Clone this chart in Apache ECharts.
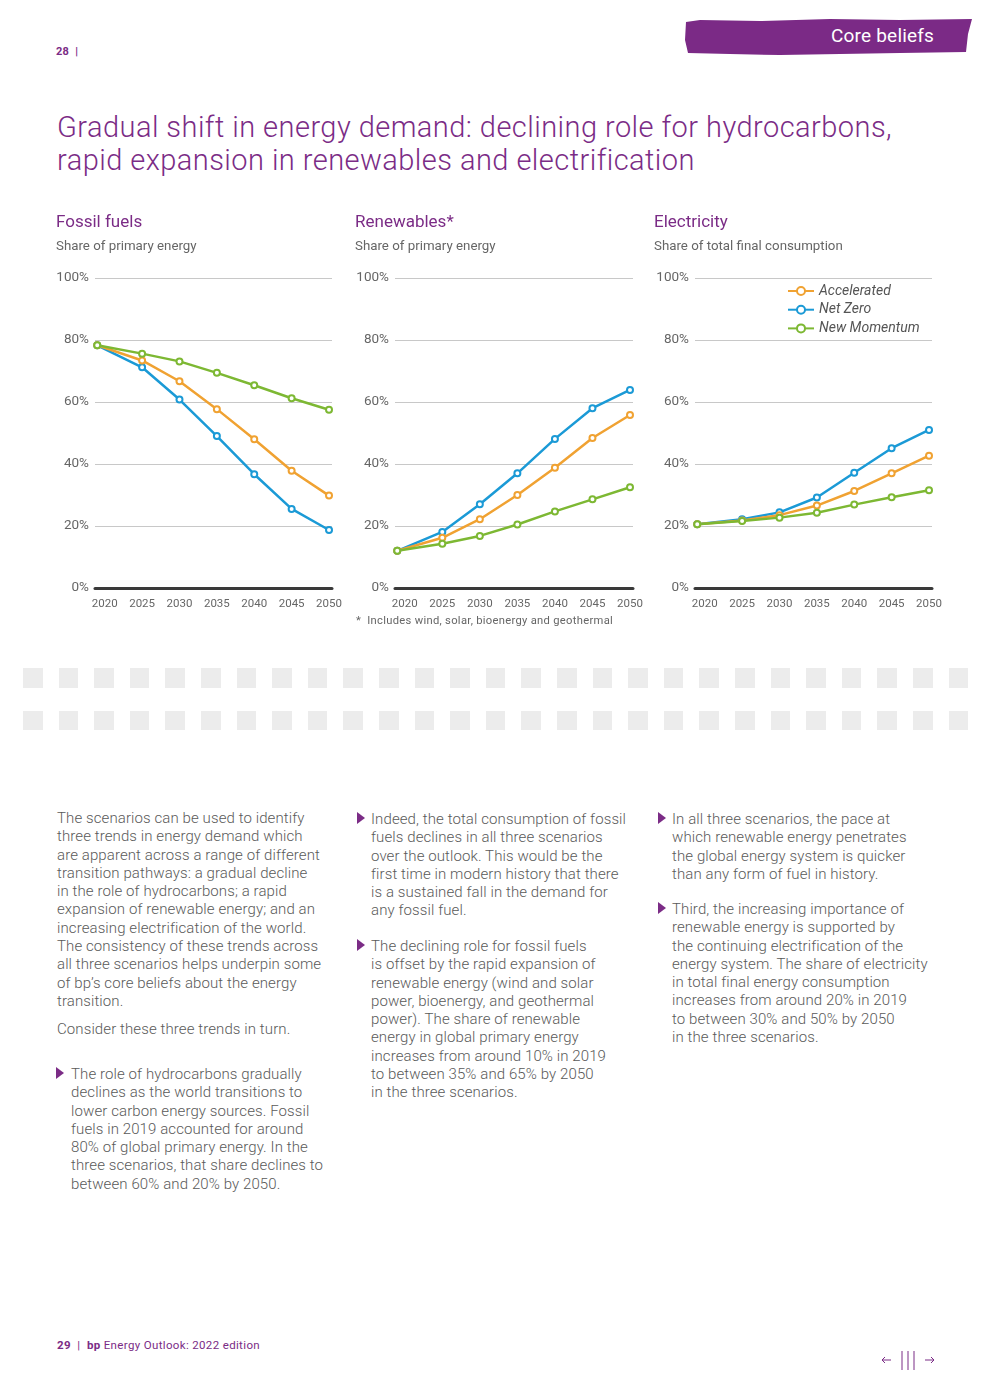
<!DOCTYPE html>
<html>
<head>
<meta charset="utf-8">
<script src="https://cdn.jsdelivr.net/npm/echarts@6/dist/echarts.min.js"></script>
<style>
  html, body { margin:0; padding:0; background:#fff; }
  body { width:992px; height:1398px; position:relative; overflow:hidden; font-family: Roboto, "Noto Sans", sans-serif; }
  #chart { position:absolute; left:0; top:0; width:992px; height:650px; }
  .abs { position:absolute; white-space:nowrap; }
  h1 { position:absolute; left:57px; top:111px; margin:0; font-weight:300; font-size:29px; line-height:33px; color:#7B2C86; white-space:nowrap; letter-spacing:0.45px; }
  .txt { position:absolute; font-size:15px; line-height:18.3px; color:#5a5a5a; font-weight:300; white-space:nowrap; letter-spacing:0.1px; }
  .tri { position:absolute; width:0; height:0; border-top:6.5px solid transparent; border-bottom:6.5px solid transparent; border-left:8.5px solid #7B2C86; }
  .dash { position:absolute; width:20px; height:20px; background:#ececec; }
</style>
</head>
<body>
<svg class="abs" style="left:0;top:0" width="992" height="70">
  <path d="M686,22 L700,20 L760,21 L830,19 L900,20 L972,19 L968,34 L966,52 L900,53 L840,54 L780,55 L730,54 L688,53 L685,40 Z" fill="#7B2A86"/>
</svg>
<div class="abs" style="left:831px;top:24px;font-size:19px;color:#fff;font-weight:400;letter-spacing:0.2px;">Core beliefs</div>
<div class="abs" style="left:56px;top:45px;font-size:11px;color:#7B2C86;font-weight:700;letter-spacing:0.3px;">28 &nbsp;|</div>

<h1>Gradual shift in energy demand: declining role for hydrocarbons,<br>rapid expansion in renewables and electrification</h1>

<div id="chart"></div>

<div class="abs" style="left:356px;top:614px;font-size:11.2px;color:#666;letter-spacing:0.3px;">*&nbsp; Includes wind, solar, bioenergy and geothermal</div>

<div id="dashes"></div>

<div class="txt" style="left:57px;top:809px;">The scenarios can be used to identify<br>three trends in energy demand which<br>are apparent across a range of different<br>transition pathways: a gradual decline<br>in the role of hydrocarbons; a rapid<br>expansion of renewable energy; and an<br>increasing electrification of the world.<br>The consistency of these trends across<br>all three scenarios helps underpin some<br>of bp’s core beliefs about the energy<br>transition.</div>
<div class="txt" style="left:57px;top:1020px;">Consider these three trends in turn.</div>
<div class="tri" style="left:56px;top:1067px;"></div>
<div class="txt" style="left:71px;top:1065px;">The role of hydrocarbons gradually<br>declines as the world transitions to<br>lower carbon energy sources. Fossil<br>fuels in 2019 accounted for around<br>80% of global primary energy. In the<br>three scenarios, that share declines to<br>between 60% and 20% by 2050.</div>

<div class="tri" style="left:357px;top:812px;"></div>
<div class="txt" style="left:371px;top:810px;">Indeed, the total consumption of fossil<br>fuels declines in all three scenarios<br>over the outlook. This would be the<br>first time in modern history that there<br>is a sustained fall in the demand for<br>any fossil fuel.</div>
<div class="tri" style="left:357px;top:939px;"></div>
<div class="txt" style="left:371px;top:937px;">The declining role for fossil fuels<br>is offset by the rapid expansion of<br>renewable energy (wind and solar<br>power, bioenergy, and geothermal<br>power). The share of renewable<br>energy in global primary energy<br>increases from around 10% in 2019<br>to between 35% and 65% by 2050<br>in the three scenarios.</div>

<div class="tri" style="left:658px;top:812px;"></div>
<div class="txt" style="left:672px;top:810px;">In all three scenarios, the pace at<br>which renewable energy penetrates<br>the global energy system is quicker<br>than any form of fuel in history.</div>
<div class="tri" style="left:658px;top:902px;"></div>
<div class="txt" style="left:672px;top:900px;">Third, the increasing importance of<br>renewable energy is supported by<br>the continuing electrification of the<br>energy system. The share of electricity<br>in total final energy consumption<br>increases from around 20% in 2019<br>to between 30% and 50% by 2050<br>in the three scenarios.</div>

<div class="abs" style="left:57px;top:1338px;font-size:11.5px;color:#7B2C86;letter-spacing:0.35px;"><b>29</b> &nbsp;|&nbsp; <b>bp</b> Energy Outlook: 2022 edition</div>
<svg class="abs" style="left:878px;top:1350px" width="62" height="22">
  <g stroke="#7B2C86" stroke-width="1" fill="none">
    <line x1="4" y1="10" x2="13" y2="10"/><path d="M7,7 L4,10 L7,13"/>
    <line x1="24" y1="1" x2="24" y2="20"/><line x1="30" y1="1" x2="30" y2="20"/><line x1="36" y1="1" x2="36" y2="20"/>
    <line x1="47" y1="10" x2="56" y2="10"/><path d="M53,7 L56,10 L53,13"/>
  </g>
</svg>

<script>
// ---- data ----
const years = [2019, 2025, 2030, 2035, 2040, 2045, 2050];
const xTickLabels = [2020, 2025, 2030, 2035, 2040, 2045, 2050];
const scenarioNames = ['Accelerated', 'Net Zero', 'New Momentum'];

const fossilAccelerated = [78.3, 73.4, 66.7, 57.7, 48.0, 37.8, 29.8];
const fossilNetZero     = [78.3, 71.2, 60.8, 49.0, 36.7, 25.5, 18.7];
const fossilNewMomentum = [78.3, 75.6, 73.1, 69.4, 65.4, 61.2, 57.5];

const renewAccelerated  = [12.0, 16.2, 22.2, 30.0, 38.8, 48.4, 55.8];
const renewNetZero      = [12.0, 18.1, 27.0, 37.0, 48.1, 58.0, 63.9];
const renewNewMomentum  = [12.0, 14.3, 16.8, 20.5, 24.7, 28.6, 32.5];

const elecAccelerated   = [20.6, 21.8, 23.5, 26.6, 31.3, 37.0, 42.7];
const elecNetZero       = [20.6, 22.2, 24.4, 29.2, 37.2, 45.1, 51.0];
const elecNewMomentum   = [20.6, 21.6, 22.7, 24.3, 26.9, 29.3, 31.5];

const panelTitles = ['Fossil fuels', 'Renewables*', 'Electricity'];
const panelSubtitles = ['Share of primary energy', 'Share of primary energy', 'Share of total final consumption'];

// ---- styling ----
const colors = { 'Accelerated': '#F0A232', 'Net Zero': '#1B9AD6', 'New Momentum': '#7DB833' };
const FONT = 'Roboto, "Noto Sans", sans-serif';

// dashes band
(function(){
  const d = document.getElementById('dashes');
  let html = '';
  for (let r = 0; r < 2; r++) {
    for (let i = 0; i < 27; i++) {
      const x = 23 + i * 35.6;
      const y = r === 0 ? 668 : 711;
      html += '<div class="dash" style="left:' + x.toFixed(1) + 'px;top:' + y + 'px;width:19.5px;height:' + (r===0?20:19) + 'px"></div>';
    }
  }
  d.innerHTML = html;
})();

const chart = echarts.init(document.getElementById('chart'), null, { renderer: 'canvas' });

const gridLefts = [95, 395, 695];
const gridWidths = [237, 238, 237];
const panels = [
  { 'Accelerated': fossilAccelerated, 'Net Zero': fossilNetZero, 'New Momentum': fossilNewMomentum },
  { 'Accelerated': renewAccelerated, 'Net Zero': renewNetZero, 'New Momentum': renewNewMomentum },
  { 'Accelerated': elecAccelerated, 'Net Zero': elecNetZero, 'New Momentum': elecNewMomentum }
];

const grids = [], xAxes = [], yAxes = [], series = [], titles = [];
panels.forEach((p, k) => {
  grids.push({ left: gridLefts[k], width: gridWidths[k], top: 278, height: 310 });
  xAxes.push({
    type: 'value', gridIndex: k, min: 2018.7, max: 2050.4,
    axisLine: { show: true, lineStyle: { color: '#3a3a3a', width: 3 } },
    axisTick: { show: false },
    splitLine: { show: false },
    axisLabel: { customValues: xTickLabels, formatter: v => String(v), color: '#666', fontSize: 11.5, fontFamily: FONT, margin: 10 }
  });
  yAxes.push({
    type: 'value', gridIndex: k, min: 0, max: 100, interval: 20,
    axisLine: { show: false }, axisTick: { show: false },
    splitLine: { lineStyle: { color: '#c8c8c8', width: 1 } },
    axisLabel: { formatter: '{value}%', color: '#666', fontSize: 13.5, fontFamily: FONT, margin: 6 }
  });
  ['Net Zero', 'Accelerated', 'New Momentum'].forEach(name => {
    series.push({
      name: name, type: 'line', xAxisIndex: k, yAxisIndex: k,
      data: years.map((y, i) => [y, p[name][i]]),
      symbol: 'emptyCircle', symbolSize: 6, showSymbol: true,
      lineStyle: { color: colors[name], width: 2.5 },
      itemStyle: { color: colors[name], borderWidth: 2 },
      emphasis: { disabled: true }, silent: true, animation: false
    });
  });
  titles.push({
    text: panelTitles[k], subtext: panelSubtitles[k],
    left: [56, 355, 654][k], top: 214, padding: 0, itemGap: 9,
    textStyle: { color: '#7B2C86', fontSize: 17, fontWeight: 400, fontFamily: FONT },
    subtextStyle: { color: '#666', fontSize: 13.3, fontFamily: FONT }
  });
});

chart.setOption({
  animation: false,
  title: titles,
  grid: grids, xAxis: xAxes, yAxis: yAxes, series: series,
  legend: {
    data: scenarioNames, orient: 'vertical', left: 787, top: 284, padding: 0,
    itemWidth: 26, itemHeight: 10, itemGap: 4.7,
    textStyle: { color: '#555', fontStyle: 'italic', fontSize: 14, fontFamily: FONT, lineHeight: 14 },
    selectedMode: false
  }
});
</script>
</body>
</html>
